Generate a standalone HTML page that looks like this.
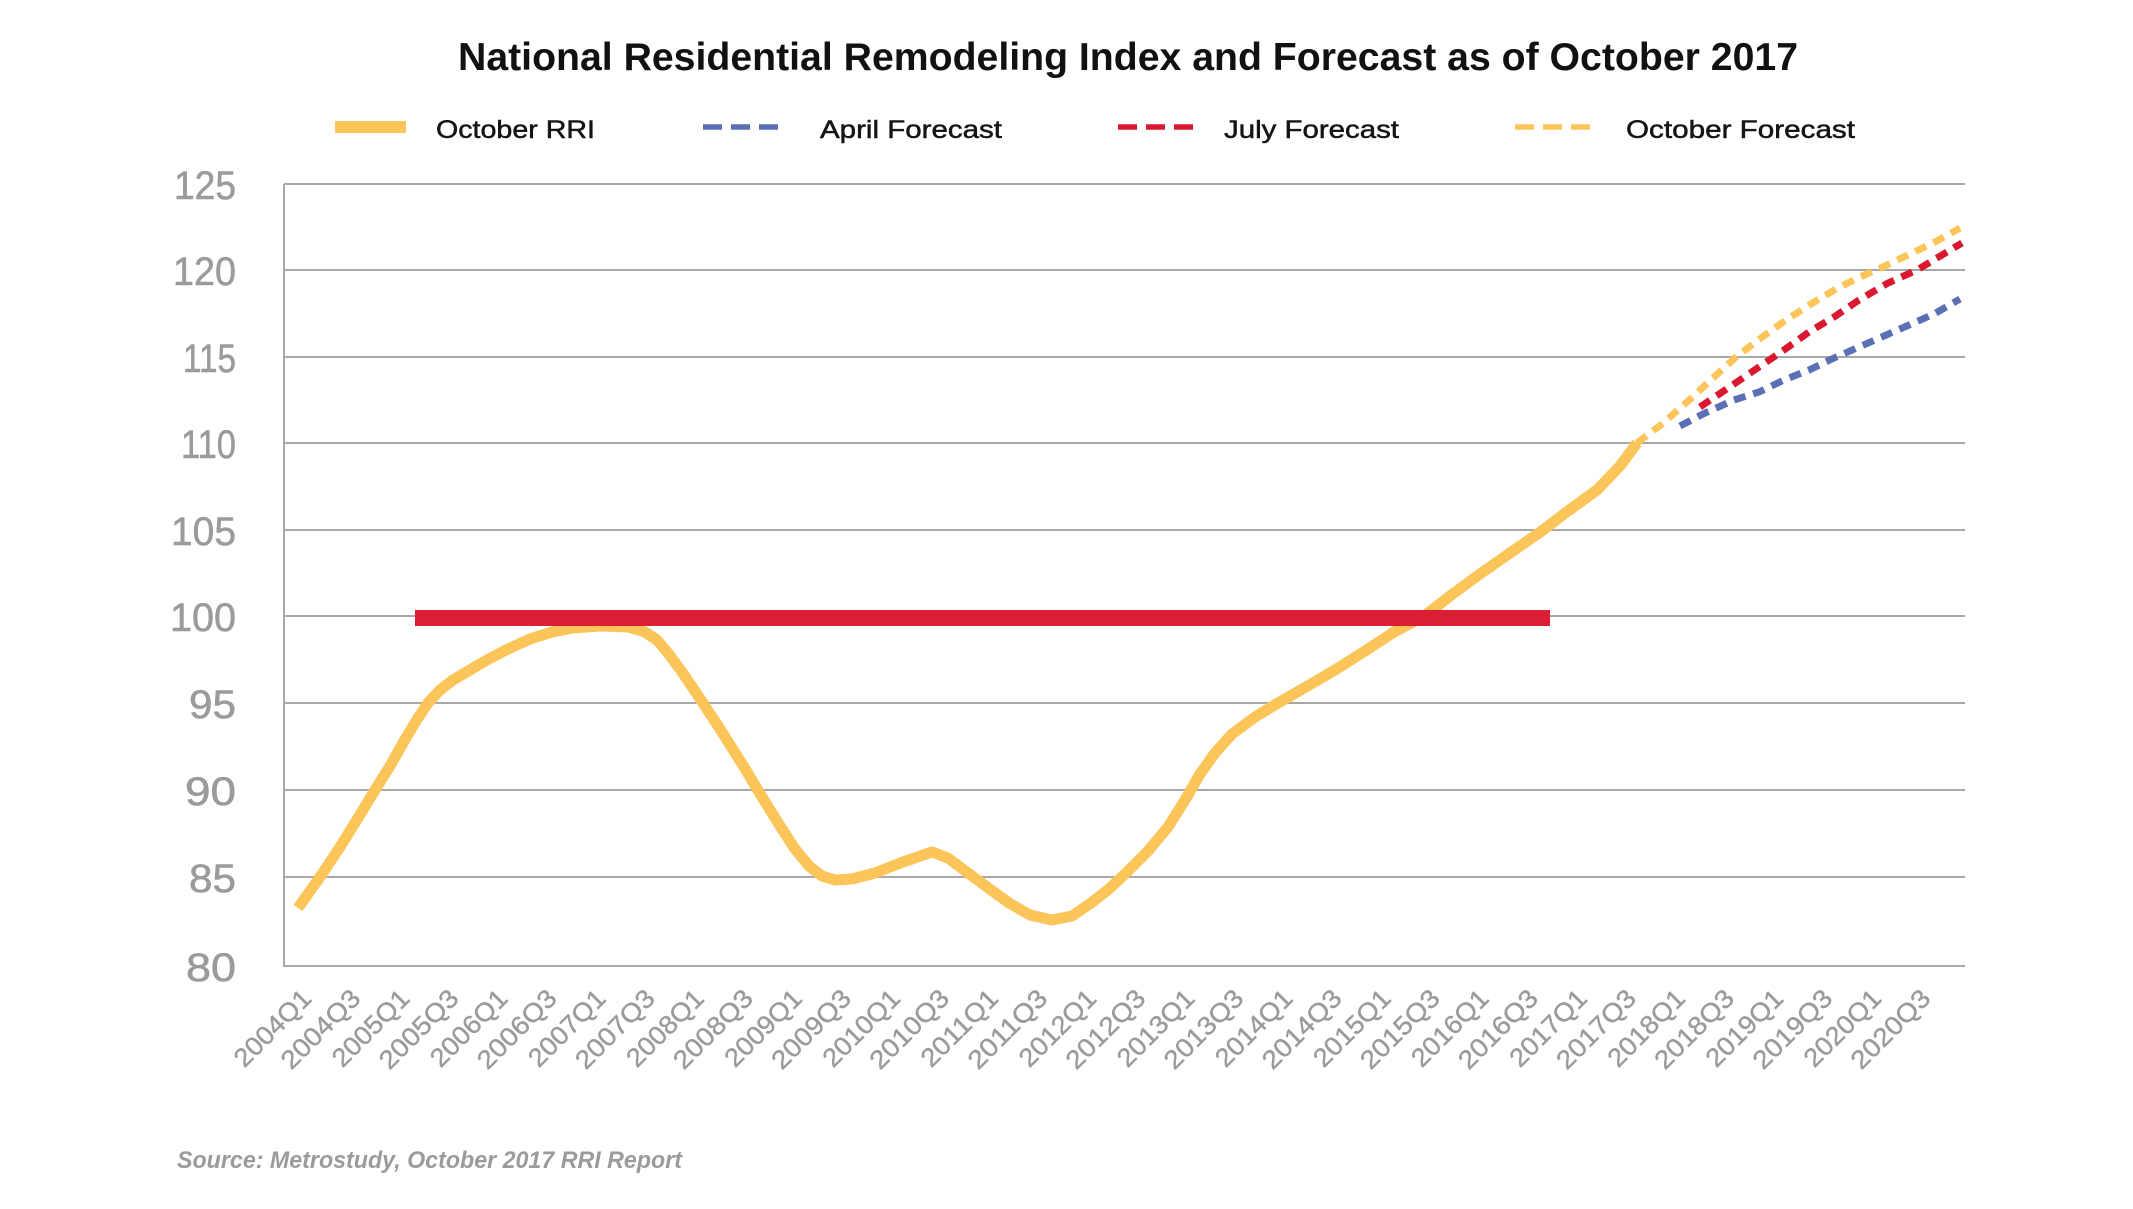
<!DOCTYPE html>
<html>
<head>
<meta charset="utf-8">
<style>
  html,body{margin:0;padding:0;background:#fff;}
  svg{display:block;}
  .yl{font-family:"Liberation Sans",sans-serif;font-size:40px;fill:#9b9b9b;stroke:#9b9b9b;stroke-width:0.6;}
  .xl{font-family:"Liberation Sans",sans-serif;font-size:26px;fill:#9b9b9b;stroke:#9b9b9b;stroke-width:0.4;}
  .lg{font-family:"Liberation Sans",sans-serif;font-size:25px;fill:#151515;stroke:#151515;stroke-width:0.5;}
</style>
</head>
<body>
<svg width="2133" height="1209" viewBox="0 0 2133 1209" xmlns="http://www.w3.org/2000/svg">
  <rect width="2133" height="1209" fill="#ffffff"/>

  <!-- Title -->
  <text x="458" y="70" textLength="1340" lengthAdjust="spacingAndGlyphs" font-family="Liberation Sans, sans-serif" font-size="39" font-weight="bold" fill="#111">National Residential Remodeling Index and Forecast as of October 2017</text>

  <!-- Legend -->
  <rect x="335" y="121" width="71" height="12" fill="#fbc55a"/>
  <text class="lg" x="436" y="138" textLength="159" lengthAdjust="spacingAndGlyphs">October RRI</text>
  <line x1="703" y1="127" x2="779" y2="127" stroke="#5b6fb4" stroke-width="5.5" stroke-dasharray="19 9"/>
  <text class="lg" x="820" y="138" textLength="182" lengthAdjust="spacingAndGlyphs">April Forecast</text>
  <line x1="1118" y1="127" x2="1194" y2="127" stroke="#d8192f" stroke-width="5.5" stroke-dasharray="19 9"/>
  <text class="lg" x="1224" y="138" textLength="175" lengthAdjust="spacingAndGlyphs">July Forecast</text>
  <line x1="1515" y1="127" x2="1592" y2="127" stroke="#fbc55a" stroke-width="5.5" stroke-dasharray="19 9"/>
  <text class="lg" x="1626" y="138" textLength="229" lengthAdjust="spacingAndGlyphs">October Forecast</text>

  <!-- Gridlines -->
  <g stroke="#a8a8a8" stroke-width="2">
    <line x1="284" y1="184" x2="1965" y2="184"/>
    <line x1="284" y1="270" x2="1965" y2="270"/>
    <line x1="284" y1="357" x2="1965" y2="357"/>
    <line x1="284" y1="443" x2="1965" y2="443"/>
    <line x1="284" y1="530" x2="1965" y2="530"/>
    <line x1="284" y1="616" x2="1965" y2="616"/>
    <line x1="284" y1="703" x2="1965" y2="703"/>
    <line x1="284" y1="790" x2="1965" y2="790"/>
    <line x1="284" y1="877" x2="1965" y2="877"/>
    <line x1="284" y1="966" x2="1965" y2="966"/>
    <line x1="284" y1="184" x2="284" y2="967"/>
  </g>

  <!-- Y labels -->
  <g text-anchor="end">
    <text class="yl" x="236" y="199" textLength="62" lengthAdjust="spacingAndGlyphs">125</text>
    <text class="yl" x="236" y="285" textLength="63" lengthAdjust="spacingAndGlyphs">120</text>
    <text class="yl" x="236" y="372" textLength="53" lengthAdjust="spacingAndGlyphs">115</text>
    <text class="yl" x="236" y="458" textLength="55" lengthAdjust="spacingAndGlyphs">110</text>
    <text class="yl" x="236" y="545" textLength="65" lengthAdjust="spacingAndGlyphs">105</text>
    <text class="yl" x="236" y="631" textLength="66" lengthAdjust="spacingAndGlyphs">100</text>
    <text class="yl" x="236" y="718" textLength="47" lengthAdjust="spacingAndGlyphs">95</text>
    <text class="yl" x="236" y="805" textLength="51" lengthAdjust="spacingAndGlyphs">90</text>
    <text class="yl" x="236" y="892" textLength="47" lengthAdjust="spacingAndGlyphs">85</text>
    <text class="yl" x="236" y="981" textLength="50" lengthAdjust="spacingAndGlyphs">80</text>
  </g>

  <!-- X labels -->
  <g class="xl" text-anchor="end">
    <text transform="translate(313,1000) rotate(-45)" textLength="97" lengthAdjust="spacingAndGlyphs">2004Q1</text>
    <text transform="translate(362.1,1000) rotate(-45)" textLength="100" lengthAdjust="spacingAndGlyphs">2004Q3</text>
    <text transform="translate(411.1,1000) rotate(-45)" textLength="97" lengthAdjust="spacingAndGlyphs">2005Q1</text>
    <text transform="translate(460.2,1000) rotate(-45)" textLength="100" lengthAdjust="spacingAndGlyphs">2005Q3</text>
    <text transform="translate(509.2,1000) rotate(-45)" textLength="97" lengthAdjust="spacingAndGlyphs">2006Q1</text>
    <text transform="translate(558.3,1000) rotate(-45)" textLength="100" lengthAdjust="spacingAndGlyphs">2006Q3</text>
    <text transform="translate(607.4,1000) rotate(-45)" textLength="97" lengthAdjust="spacingAndGlyphs">2007Q1</text>
    <text transform="translate(656.4,1000) rotate(-45)" textLength="100" lengthAdjust="spacingAndGlyphs">2007Q3</text>
    <text transform="translate(705.5,1000) rotate(-45)" textLength="97" lengthAdjust="spacingAndGlyphs">2008Q1</text>
    <text transform="translate(754.5,1000) rotate(-45)" textLength="100" lengthAdjust="spacingAndGlyphs">2008Q3</text>
    <text transform="translate(803.6,1000) rotate(-45)" textLength="97" lengthAdjust="spacingAndGlyphs">2009Q1</text>
    <text transform="translate(852.7,1000) rotate(-45)" textLength="100" lengthAdjust="spacingAndGlyphs">2009Q3</text>
    <text transform="translate(901.7,1000) rotate(-45)" textLength="97" lengthAdjust="spacingAndGlyphs">2010Q1</text>
    <text transform="translate(950.8,1000) rotate(-45)" textLength="100" lengthAdjust="spacingAndGlyphs">2010Q3</text>
    <text transform="translate(999.8,1000) rotate(-45)" textLength="97" lengthAdjust="spacingAndGlyphs">2011Q1</text>
    <text transform="translate(1048.9,1000) rotate(-45)" textLength="100" lengthAdjust="spacingAndGlyphs">2011Q3</text>
    <text transform="translate(1098,1000) rotate(-45)" textLength="97" lengthAdjust="spacingAndGlyphs">2012Q1</text>
    <text transform="translate(1147,1000) rotate(-45)" textLength="100" lengthAdjust="spacingAndGlyphs">2012Q3</text>
    <text transform="translate(1196.1,1000) rotate(-45)" textLength="97" lengthAdjust="spacingAndGlyphs">2013Q1</text>
    <text transform="translate(1245.1,1000) rotate(-45)" textLength="100" lengthAdjust="spacingAndGlyphs">2013Q3</text>
    <text transform="translate(1294.2,1000) rotate(-45)" textLength="97" lengthAdjust="spacingAndGlyphs">2014Q1</text>
    <text transform="translate(1343.3,1000) rotate(-45)" textLength="100" lengthAdjust="spacingAndGlyphs">2014Q3</text>
    <text transform="translate(1392.3,1000) rotate(-45)" textLength="97" lengthAdjust="spacingAndGlyphs">2015Q1</text>
    <text transform="translate(1441.4,1000) rotate(-45)" textLength="100" lengthAdjust="spacingAndGlyphs">2015Q3</text>
    <text transform="translate(1490.4,1000) rotate(-45)" textLength="97" lengthAdjust="spacingAndGlyphs">2016Q1</text>
    <text transform="translate(1539.5,1000) rotate(-45)" textLength="100" lengthAdjust="spacingAndGlyphs">2016Q3</text>
    <text transform="translate(1588.6,1000) rotate(-45)" textLength="97" lengthAdjust="spacingAndGlyphs">2017Q1</text>
    <text transform="translate(1637.6,1000) rotate(-45)" textLength="100" lengthAdjust="spacingAndGlyphs">2017Q3</text>
    <text transform="translate(1686.7,1000) rotate(-45)" textLength="97" lengthAdjust="spacingAndGlyphs">2018Q1</text>
    <text transform="translate(1735.7,1000) rotate(-45)" textLength="100" lengthAdjust="spacingAndGlyphs">2018Q3</text>
    <text transform="translate(1784.8,1000) rotate(-45)" textLength="97" lengthAdjust="spacingAndGlyphs">2019Q1</text>
    <text transform="translate(1833.9,1000) rotate(-45)" textLength="100" lengthAdjust="spacingAndGlyphs">2019Q3</text>
    <text transform="translate(1882.9,1000) rotate(-45)" textLength="97" lengthAdjust="spacingAndGlyphs">2020Q1</text>
    <text transform="translate(1932,1000) rotate(-45)" textLength="100" lengthAdjust="spacingAndGlyphs">2020Q3</text>
  </g>

  <!-- Forecast lines -->
  <polyline fill="none" stroke="#5b6fb4" stroke-width="7" stroke-dasharray="12 8"
    points="1680,426 1705,413 1734,400 1759,392 1784,380 1809,370 1834,358 1859,347 1884,336 1909,325 1934,314 1960,299"/>
  <polyline fill="none" stroke="#d8192f" stroke-width="7" stroke-dasharray="12 8"
    points="1700,407 1734,384 1759,367 1784,350 1809,332 1834,317 1859,300 1888,283 1917,270 1942,255 1962,243"/>
  <polyline fill="none" stroke="#fbc55a" stroke-width="7" stroke-dasharray="12 8"
    points="1637,443 1662,424 1687,402 1712,379 1736,357 1761,338 1786,320 1811,304 1836,289 1860,277 1885,266 1910,254 1935,242 1960,228"/>

  <!-- October RRI solid -->
  <polyline fill="none" stroke="#fbc55a" stroke-width="11" stroke-linejoin="round" stroke-linecap="butt"
    points="298,908 320,877 340,847 358,818 375,790 390,766 403,743 416,721 428,703 440,690 453,680 470,670 487,660 508,649 530,639 552,632 573,628 600,626 628,627 645,632 657,640 668,653 682,672 697,694 720,729 744,767 762,797 780,826 795,849 809,866 822,876 835,880 852,879 875,873 903,862 932,852 948,858 964,870 987,887 1009,903 1030,915 1052,920 1072,916 1091,903 1109,889 1126,873 1148,851 1168,827 1185,800 1200,774 1215,753 1232,734 1255,717 1278,703 1306,687 1335,670 1365,651 1394,632 1423,617 1450,596 1480,574 1510,553 1539,533 1568,511 1597,490 1620,466 1637,443"/>

  <!-- Red 100 bar (on top) -->
  <rect x="415" y="610" width="1135" height="16" fill="#dc1e35"/>

  <!-- Source -->
  <text x="177" y="1168" textLength="505" lengthAdjust="spacingAndGlyphs" font-family="Liberation Sans, sans-serif" font-size="24" font-style="italic" font-weight="bold" fill="#9b9b9b">Source: Metrostudy, October 2017 RRI Report</text>
</svg>
</body>
</html>
